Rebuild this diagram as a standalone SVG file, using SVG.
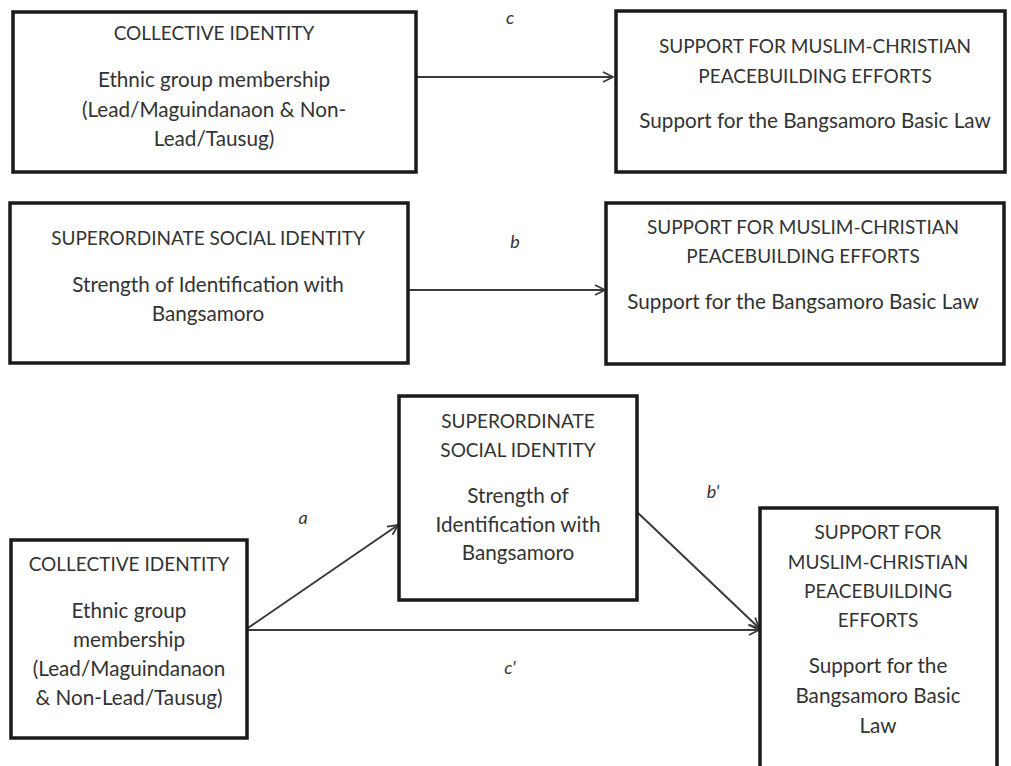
<svg xmlns="http://www.w3.org/2000/svg" width="1011" height="766" viewBox="0 0 1011 766">
<defs>
<style>
.box{fill:#fff;stroke:#1a1a1a;stroke-width:3.5}
.t{font-family:Lato,"Liberation Sans",sans-serif;font-size:19px;fill:#333;text-anchor:middle}
.m{font-family:Lato,"Liberation Sans",sans-serif;font-size:20.7px;fill:#333;text-anchor:middle}
.lbl{font-family:Lato,"Liberation Sans",sans-serif;font-size:18px;font-style:italic;fill:#333;text-anchor:middle}
.edge{stroke:#3a3a3a;stroke-width:2;fill:none}
</style>
<marker id="arr" viewBox="0 0 12 12" refX="11" refY="6" markerWidth="12" markerHeight="12" markerUnits="userSpaceOnUse" orient="auto">
<path d="M1,1 L11,6 L1,11" fill="none" stroke="#3a3a3a" stroke-width="1.8"/>
</marker>
</defs>
<rect width="1011" height="766" fill="#fff"/>
<g id="connectors">
<line class="edge" x1="416" y1="77" x2="613" y2="77" marker-end="url(#arr)"/>
<line class="edge" x1="408" y1="290" x2="605" y2="290" marker-end="url(#arr)"/>
<line class="edge" x1="248" y1="628" x2="398" y2="525" marker-end="url(#arr)"/>
<line class="edge" x1="637" y1="512" x2="759" y2="628" marker-end="url(#arr)"/>
<line class="edge" x1="248" y1="630" x2="759" y2="630" marker-end="url(#arr)"/>
<text class="lbl" x="510" y="24">c</text>
<text class="lbl" x="515" y="248">b</text>
<text class="lbl" x="303" y="524">a</text>
<text class="lbl" x="713" y="498">b'</text>
<text class="lbl" x="510" y="674">c'</text>
</g>
<g id="n1">
<rect class="box" x="13" y="12" width="403" height="160"/>
<text class="t" x="214" y="40">COLLECTIVE IDENTITY</text>
<text class="m" x="214" y="87">Ethnic group membership</text>
<text class="m" x="214" y="117">(Lead/Maguindanaon &amp; Non-</text>
<text class="m" x="214" y="146">Lead/Tausug)</text>
</g>
<g id="n2">
<rect class="box" x="616" y="11" width="389" height="161"/>
<text class="t" x="815" y="53">SUPPORT FOR MUSLIM-CHRISTIAN</text>
<text class="t" x="815" y="83">PEACEBUILDING EFFORTS</text>
<text class="m" x="815" y="128">Support for the Bangsamoro Basic Law</text>
</g>
<g id="n3">
<rect class="box" x="10" y="203" width="398" height="160"/>
<text class="t" x="208" y="245">SUPERORDINATE SOCIAL IDENTITY</text>
<text class="m" x="208" y="292">Strength of Identification with</text>
<text class="m" x="208" y="321">Bangsamoro</text>
</g>
<g id="n4">
<rect class="box" x="606" y="203" width="398" height="161"/>
<text class="t" x="803" y="234">SUPPORT FOR MUSLIM-CHRISTIAN</text>
<text class="t" x="803" y="263">PEACEBUILDING EFFORTS</text>
<text class="m" x="803" y="309">Support for the Bangsamoro Basic Law</text>
</g>
<g id="n5">
<rect class="box" x="11" y="540" width="236" height="198"/>
<text class="t" x="129" y="571">COLLECTIVE IDENTITY</text>
<text class="m" x="129" y="618">Ethnic group</text>
<text class="m" x="129" y="647">membership</text>
<text class="m" x="129" y="676">(Lead/Maguindanaon</text>
<text class="m" x="129" y="705">&amp; Non-Lead/Tausug)</text>
</g>
<g id="n6">
<rect class="box" x="399" y="396" width="238" height="204"/>
<text class="t" x="518" y="428">SUPERORDINATE</text>
<text class="t" x="518" y="457">SOCIAL IDENTITY</text>
<text class="m" x="518" y="503">Strength of</text>
<text class="m" x="518" y="532">Identification with</text>
<text class="m" x="518" y="560">Bangsamoro</text>
</g>
<g id="n7">
<rect class="box" x="760" y="508" width="237" height="270"/>
<text class="t" x="878" y="539">SUPPORT FOR</text>
<text class="t" x="878" y="569">MUSLIM-CHRISTIAN</text>
<text class="t" x="878" y="598">PEACEBUILDING</text>
<text class="t" x="878" y="627">EFFORTS</text>
<text class="m" x="878" y="673">Support for the</text>
<text class="m" x="878" y="703">Bangsamoro Basic</text>
<text class="m" x="878" y="733">Law</text>
</g>
</svg>
